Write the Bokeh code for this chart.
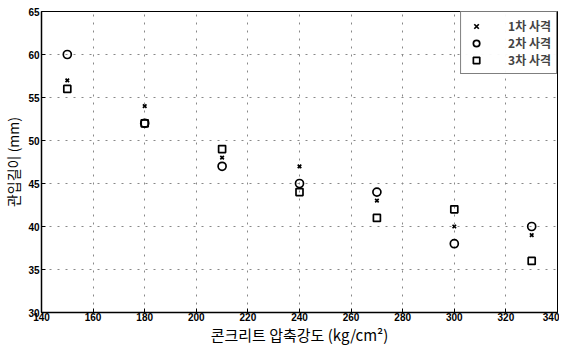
from bokeh.plotting import figure
from bokeh.embed import file_html
from bokeh.resources import INLINE
from bokeh.models import Legend, LegendItem, FixedTicker

strength = [150, 180, 210, 240, 270, 300, 330]
test1 = [57, 54, 48, 47, 43, 40, 39]
test2 = [60, 52, 47, 45, 44, 38, 40]
test3 = [56, 52, 49, 44, 41, 42, 36]
labels = ["1차 사격", "2차 사격", "3차 사격"]
xticks = list(range(140, 341, 20))
yticks = list(range(30, 66, 5))

p = figure(width=559, height=347, x_range=(140, 340), y_range=(30, 65),
           output_backend="svg", toolbar_location=None,
           min_border_left=35, min_border_right=2, min_border_top=11, min_border_bottom=35)
p.background_fill_color = "white"
p.outline_line_color = "black"
p.outline_line_width = 1

r1 = p.scatter(strength, test1, marker="x", size=5, line_color="black", line_width=1.7)
r2 = p.scatter(strength, test2, marker="circle", size=8, line_color="black", fill_color=None, line_width=1.7)
r3 = p.scatter(strength, test3, marker="square", size=7, line_color="black", fill_color=None, line_width=1.7)

for ax in (p.xaxis[0], p.yaxis[0]):
    ax.major_label_text_font = "Liberation Sans"
    ax.major_label_text_font_style = "bold"
    ax.major_label_text_font_size = "10px"
    ax.major_label_text_color = "black"
    ax.axis_line_color = "black"
    ax.axis_line_width = 1.5
    ax.major_tick_in = 4
    ax.major_tick_out = 0
    ax.minor_tick_line_color = None
    ax.axis_label_text_font = "Noto Sans CJK KR"
    ax.axis_label_text_font_style = "normal"
    ax.axis_label_text_color = "black"

p.xaxis.axis_label_text_font_size = "15px"
p.yaxis.axis_label_text_font_size = "14px"
p.xaxis.ticker = FixedTicker(ticks=xticks)
p.yaxis.ticker = FixedTicker(ticks=yticks)
p.xaxis.major_label_standoff = 0
p.yaxis.major_label_standoff = 2
p.xaxis.axis_label = "콘크리트 압축강도 (kg/cm²)"
p.yaxis.axis_label = "관입길이 (mm)"
p.xaxis.axis_label_standoff = 0
p.yaxis.axis_label_standoff = 2

p.grid.grid_line_color = "#888888"
p.grid.grid_line_dash = "2 6"
p.grid.grid_line_width = 1
p.xgrid.ticker = FixedTicker(ticks=xticks)
p.ygrid.ticker = FixedTicker(ticks=yticks)

legend = Legend(items=[LegendItem(label=labels[0], renderers=[r1]),
                       LegendItem(label=labels[1], renderers=[r2]),
                       LegendItem(label=labels[2], renderers=[r3])],
                location="top_right")
legend.label_text_font = "Noto Sans CJK KR"
legend.label_text_font_style = "bold"
legend.label_text_font_size = "12px"
legend.border_line_color = "black"
legend.border_line_width = 1
legend.glyph_width = 20
legend.glyph_height = 16
legend.spacing = 0
legend.padding = 5
legend.margin = 0
legend.label_height = 16
legend.label_standoff = 22
legend.label_text_line_height = 1.0
p.add_layout(legend)

open("out.html", "w").write(file_html(p, INLINE))
